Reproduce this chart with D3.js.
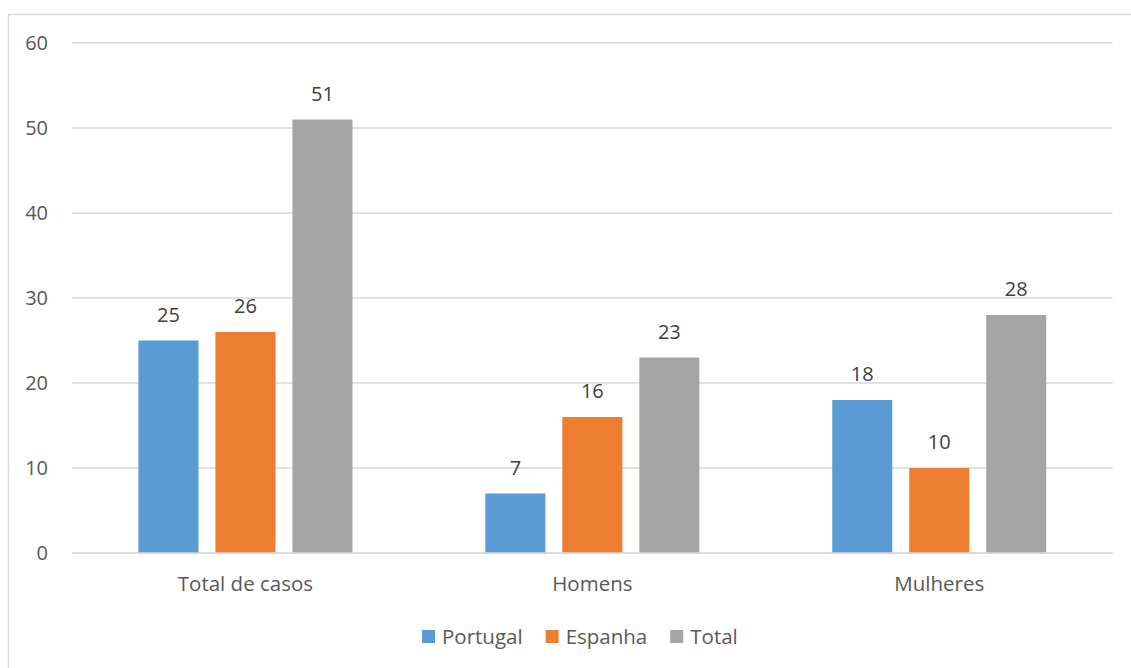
<!DOCTYPE html>
<html>
<head>
<meta charset="utf-8">
<script src="https://cdn.jsdelivr.net/npm/d3@7"></script>
<style>
  body { margin: 0; background: #fff; }
  svg text { font-family: "Open Sans", "Noto Sans", sans-serif; }
</style>
</head>
<body>
<svg id="chart" width="1131" height="668"></svg>
<script>
var categories = ['Total de casos', 'Homens', 'Mulheres'];
var series = ['Portugal', 'Espanha', 'Total'];
var portugal = [25, 7, 18];
var espanha = [26, 16, 10];
var total = [51, 23, 28];
var yTicks = [0, 10, 20, 30, 40, 50, 60];

var colors = {'Portugal': '#5b9bd5', 'Espanha': '#ed7d31', 'Total': '#a5a5a5'};
var values = {'Portugal': portugal, 'Espanha': espanha, 'Total': total};

var plot_left = 72, plot_right = 1112.7, plot_top = 43, plot_bottom = 553;

var svg = d3.select('#chart');

// chart frame (right and bottom edges fall outside the picture)
svg.append('rect')
   .attr('x', 8.5).attr('y', 14.5)
   .attr('width', 1140).attr('height', 680)
   .attr('fill', 'none')
   .attr('stroke', '#d9d9d9')
   .attr('stroke-width', 1.5);

var x0 = d3.scaleBand().domain(categories).range([plot_left, plot_right]);
var x1 = d3.scaleBand().domain(series)
           .range([0, x0.bandwidth()])
           .paddingInner(0.22)
           .paddingOuter(0.863);
var y = d3.scaleLinear().domain([0, 60]).range([plot_bottom, plot_top]);

// gridlines
svg.selectAll('line.grid')
   .data(yTicks)
   .enter()
   .append('line')
   .attr('x1', plot_left).attr('x2', plot_right)
   .attr('y1', function(d){return y(d);})
   .attr('y2', function(d){return y(d);})
   .attr('stroke', '#d9d9d9')
   .attr('stroke-width', 1.5);

// y tick labels
svg.selectAll('text.ytick')
   .data(yTicks)
   .enter()
   .append('text')
   .text(function(d){return d;})
   .attr('x', 48)
   .attr('y', function(d){return y(d);})
   .attr('dy', '0.36em')
   .attr('text-anchor', 'end')
   .attr('font-size', 20)
   .attr('fill', '#595959');

// bars
var groups = svg.selectAll('g.cat')
                .data(categories)
                .enter()
                .append('g')
                .attr('transform', function(d){return 'translate(' + x0(d) + ',0)';});

var bars = groups.selectAll('rect')
                 .data(function(c, i){
                     return series.map(function(s){return {s: s, v: values[s][i]};});
                 })
                 .enter();

bars.append('rect')
    .attr('x', function(d){return x1(d.s);})
    .attr('width', x1.bandwidth())
    .attr('y', function(d){return y(d.v);})
    .attr('height', function(d){return plot_bottom - y(d.v);})
    .attr('fill', function(d){return colors[d.s];});

bars.append('text')
    .text(function(d){return d.v;})
    .attr('x', function(d){return x1(d.s) + x1.bandwidth() / 2;})
    .attr('y', function(d){return y(d.v) - 19;})
    .attr('text-anchor', 'middle')
    .attr('font-size', 20)
    .attr('fill', '#404040');

// redraw the zero line over the bars
svg.append('line')
   .attr('x1', plot_left).attr('x2', plot_right)
   .attr('y1', y(0)).attr('y2', y(0))
   .attr('stroke', '#d9d9d9')
   .attr('stroke-width', 1.5);

// category labels
svg.selectAll('text.cat')
   .data(categories)
   .enter()
   .append('text')
   .text(function(d){return d;})
   .attr('x', function(d){return x0(d) + x0.bandwidth() / 2;})
   .attr('y', 591)
   .attr('text-anchor', 'middle')
   .attr('font-size', 20.5)
   .attr('fill', '#595959');

// legend
var legend = svg.append('g');
var lx = 422;
series.forEach(function(s){
    legend.append('rect')
          .attr('x', lx).attr('y', 630)
          .attr('width', 13).attr('height', 13)
          .attr('fill', colors[s]);
    var t = legend.append('text')
                  .text(s)
                  .attr('x', lx + 20)
                  .attr('y', 644)
                  .attr('font-size', 20.5)
                  .attr('fill', '#595959');
    lx += 20 + t.node().getComputedTextLength() + 23;
});
</script>
</body>
</html>
